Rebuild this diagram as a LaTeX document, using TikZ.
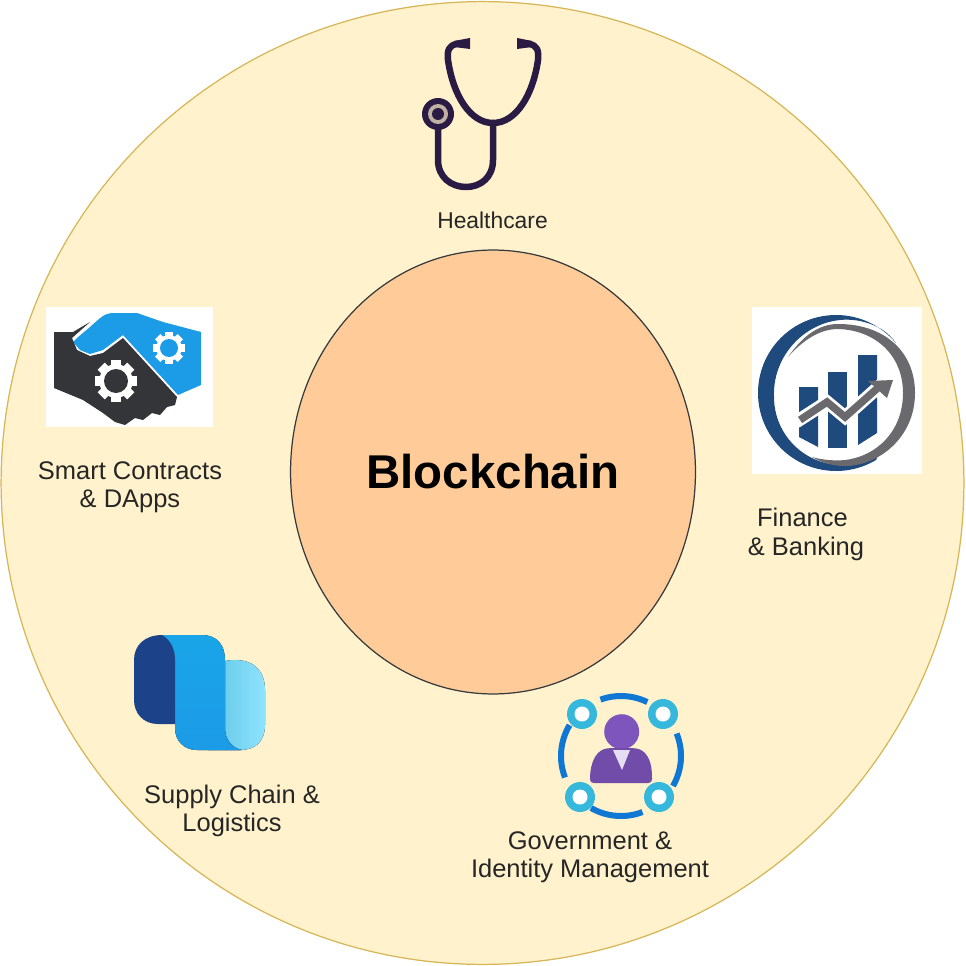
\documentclass[tikz,border=0pt]{standalone}
\usepackage{fontspec}
\setmainfont{Liberation Sans}
\usetikzlibrary{shapes.geometric}
\definecolor{ringfill}{HTML}{FFF2CC}
\definecolor{ringline}{HTML}{D6B656}
\definecolor{hubfill}{HTML}{FFCC99}
\definecolor{hubline}{HTML}{36393D}
\definecolor{scope}{HTML}{2A1B45}
\definecolor{handblue}{HTML}{1C9BE6}
\definecolor{handdark}{HTML}{333538}
\definecolor{financeblue}{HTML}{1F4A7D}
\definecolor{financegrey}{HTML}{6A6A6E}
\definecolor{ringblue}{HTML}{0F78D4}
\definecolor{dotblue}{HTML}{35B8DC}
\definecolor{person}{HTML}{7E55BC}
\definecolor{paleblue}{HTML}{8FE3FF}
\tikzstyle{ringnode} = [circle,draw=ringline,fill=ringfill,line width=.7pt,minimum size=19.26cm,inner sep=0pt]
\tikzstyle{hubnode} = [ellipse,draw=hubline,fill=hubfill,line width=.7pt,minimum width=8.1cm,minimum height=8.88cm,inner sep=0pt,font=\fontsize{27}{30}\selectfont\bfseries]
\tikzstyle{itemtext} = [align=center,text=black!85,inner sep=0pt,font=\fontsize{14.5}{16.2}\selectfont]
\tikzstyle{tube} = [draw=scope,line width=.13cm,line cap=round,line join=round]
\newcommand{\gearicon}[5]{
	\fill[white] (#1,#2) circle (#3*.8);
	\foreach \t in {0,45,...,315}
		\fill[white,rotate around={\t:(#1,#2)}] ({#1-#3*.24},{#2-#3}) rectangle ({#1+#3*.24},#2);
	\fill[#5] (#1,#2) circle (#4);
}
\begin{document}
\begin{tikzpicture}[x=.02cm,y=-.02cm]
	\useasboundingbox (0,0) rectangle (965,966);
	\node [ringnode](ring) at (482.5,483){};
	\node [hubnode](hub) at (493,472){Blockchain};

	\node [itemtext,font=\fontsize{13}{16.2}\selectfont](health) at (492.5,220){Healthcare};
	\node [itemtext](smart) at (130,487.5){Smart Contracts\\\& DApps};
	\node [itemtext](finance) at (806,534.5){Finance\hspace*{4pt}\\\& Banking};
	\node [itemtext](supply) at (232,811){Supply Chain \&\\Logistics};
	\node [itemtext](gov) at (590,857){Government \&\\Identity Management};

	\draw[tube] (462,44) -- (456,44) .. controls (449,46) and (447,50) .. (448,60) .. controls (453,95) and (470,123) .. (493,123) .. controls (516,123) and (533,95) .. (538,60) .. controls (539,50) and (537,46) .. (530,44) -- (524,44);
	\fill[scope] (470,38) -- (470,49) -- (454,47) -- (454,41) -- cycle;
	\fill[scope] (517,38) -- (517,49) -- (532,47) -- (532,41) -- cycle;
	\draw[tube] (493,123) -- (493,160) .. controls (493,177) and (481,187) .. (466,187) .. controls (451,187) and (438,177) .. (438,160) -- (438,127);
	\fill[scope] (438,114) circle (16);
	\fill[ringfill!70!scope] (438,114) circle (10);
	\fill[scope] (438,114) circle (6);

	\fill[white] (46,307) rectangle (213,427);
	\fill[handblue] (73,342) -- (77,338) -- (90,327) .. controls (100,318) and (105,313) .. (112,313) -- (137,313) -- (163,322) -- (201,332) -- (201,385) -- (178,395) -- (123,335) -- (103,350) -- (90,354) -- (80,350) -- cycle;
	\fill[handdark] (54,332) -- (73,332) -- (90,322) -- (72,338) -- (77,350) -- (90,356) -- (103,353) -- (123,338) -- (177,397) -- (175,405) -- (167,407) -- (160,415) -- (152,413) -- (143,420) -- (135,418) -- (125,425) -- (115,422) -- (103,413) -- (83,400) -- (54,388) -- cycle;
	\gearicon{116}{381}{21}{12}{handdark}
	\gearicon{169}{348}{16}{9}{handblue}

	\fill[white] (752,307) rectangle (922,474);
	\fill[financeblue] (836,393) ++(-40:78) arc[start angle=-40,end angle=-301,radius=78] -- (878,455) .. controls (860,464) and (845,465) .. (842,465) arc[start angle=-270,end angle=-180,radius=68] .. controls (772,350) and (815,312) .. (860,321) .. controls (878,325) and (888,332) .. (896,343) -- cycle;
	\fill[financegrey] (788,357) .. controls (802,337) and (818,324) .. (838,324) .. controls (885,324) and (915,352) .. (915,393) .. controls (915,438) and (878,466) .. (845,466) .. controls (833,466) and (822,463) .. (812,457) .. controls (822,460) and (835,461) .. (845,460) .. controls (878,456) and (903,430) .. (903,393) .. controls (903,355) and (875,330) .. (838,329) .. controls (820,329) and (803,340) .. (788,357) -- cycle;
	\fill[financeblue] (799,387) -- (818,387) -- (818,447) -- (799,437) -- cycle;
	\fill[financeblue] (828,372) -- (847,372) -- (847,448) -- (828,448) -- cycle;
	\fill[financeblue] (858,355) -- (877,355) -- (877,433) -- (858,445) -- cycle;
	\draw[white,line width=.26cm,line join=miter] (796,422) -- (827,402) -- (845,417) -- (883,383);
	\draw[financegrey,line width=.15cm,line join=miter] (800,420) -- (827,402) -- (845,417) -- (880,386);
	\fill[financegrey] (893,380) -- (868,381) -- (887,398) -- cycle;

	\fill[left color=dotblue!80!white,right color=paleblue] (208,685) .. controls (208,668) and (218,660) .. (235,660) .. controls (255,660) and (265,672) .. (265,690) -- (265,725) .. controls (265,742) and (255,750) .. (240,750) -- (208,750) -- cycle;
	\fill[top color=handblue!90!cyan,bottom color=handblue] (162,635) -- (202,635) .. controls (217,635) and (225,645) .. (225,660) -- (225,728) .. controls (225,740) and (232,748) .. (242,750) -- (197,750) .. controls (184,750) and (175,741) .. (175,728) -- (175,660) .. controls (175,648) and (170,640) .. (162,635) -- cycle;
	\fill[financeblue!90!blue] (162,635) .. controls (170,640) and (175,648) .. (175,660) -- (175,724) -- (158,724) .. controls (143,724) and (134,713) .. (134,700) -- (134,660) .. controls (134,645) and (145,635) .. (162,635) -- cycle;

	\draw[ringblue,line width=.12cm] (621,756) ++(-110:60) arc[start angle=-110,end angle=-64,radius=60];
	\draw[ringblue,line width=.12cm] (621,756) ++(-22:60) arc[start angle=-22,end angle=30,radius=60];
	\draw[ringblue,line width=.12cm] (621,756) ++(69:60) arc[start angle=69,end angle=120,radius=60];
	\draw[ringblue,line width=.12cm] (621,756) ++(159:60) arc[start angle=159,end angle=211,radius=60];
	\foreach \x/\y in {582/714,663/714,580/797,659/797}{
		\fill[dotblue] (\x,\y) circle (15);
		\fill[white] (\x,\y) circle (7.5);
	}
	\fill[person] (621.7,731.7) circle (17.5);
	\fill[person!90!black,rounded corners=2pt] (590,783) -- (590,775) .. controls (592,760) and (597,750) .. (610,748) -- (633,748) .. controls (646,750) and (651,760) .. (652,775) -- (652,783) -- cycle;
	\fill[person!20!white] (613,750) -- (630,750) -- (622,770) -- cycle;
\end{tikzpicture}
\end{document}
